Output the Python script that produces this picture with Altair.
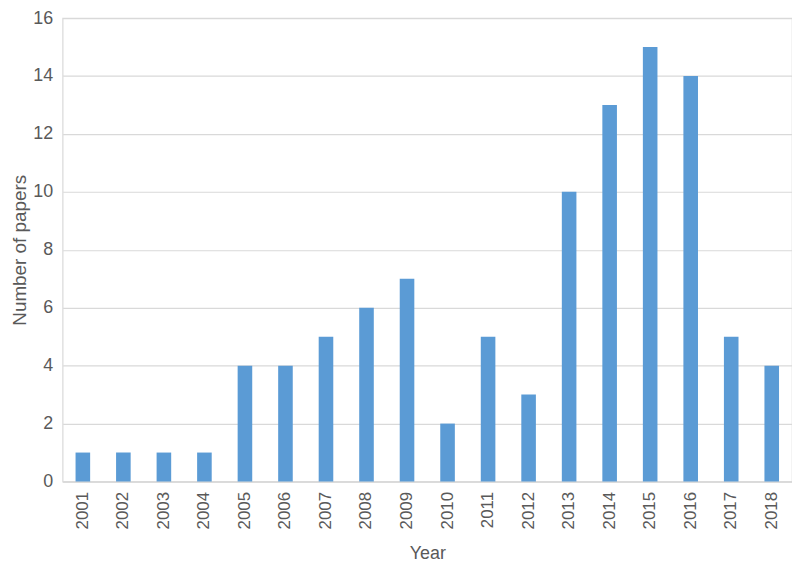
import altair as alt
import pandas as pd

years = [str(y) for y in range(2001, 2019)]
papers = [1, 1, 1, 1, 4, 4, 5, 6, 7, 2, 5, 3, 10, 13, 15, 14, 5, 4]

df = pd.DataFrame({"Year": years, "Papers": papers})

FONT = "Liberation Sans"
GRAY = "#595959"

chart = alt.Chart(df).mark_bar(color="#5B9BD5").encode(
    x=alt.X("Year:N", sort=years,
            scale=alt.Scale(paddingInner=0.64, paddingOuter=0.32),
            axis=alt.Axis(title="Year", labelAngle=-90, labelAlign="right",
                          labelBaseline="middle", labelPadding=10,
                          labelFontSize=17, labelColor=GRAY, titleFontSize=18,
                          titleColor=GRAY, titleFontWeight="normal", titlePadding=16,
                          ticks=False, domainColor="#D9D9D9", domainWidth=1.5,
                          labelFont=FONT, titleFont=FONT)),
    y=alt.Y("Papers:Q", scale=alt.Scale(domain=[0, 16], nice=False),
            axis=alt.Axis(title="Number of papers", values=list(range(0, 17, 2)),
                          labelFontSize=18, labelColor=GRAY, titleFontSize=19,
                          titleColor=GRAY, titleFontWeight="normal", titlePadding=3,
                          ticks=False, domain=False, labelPadding=10,
                          gridColor="#D9D9D9", gridWidth=1.2,
                          labelFont=FONT, titleFont=FONT)),
).properties(
    width=735, height=467,
    autosize=alt.AutoSizeParams(type="none"),
    padding={"left": 55, "top": 8, "right": 0, "bottom": 83},
).configure_view(stroke="#D9D9D9", strokeWidth=1.2)

chart.save("out.html", embed_options={"renderer": "svg", "actions": False})
